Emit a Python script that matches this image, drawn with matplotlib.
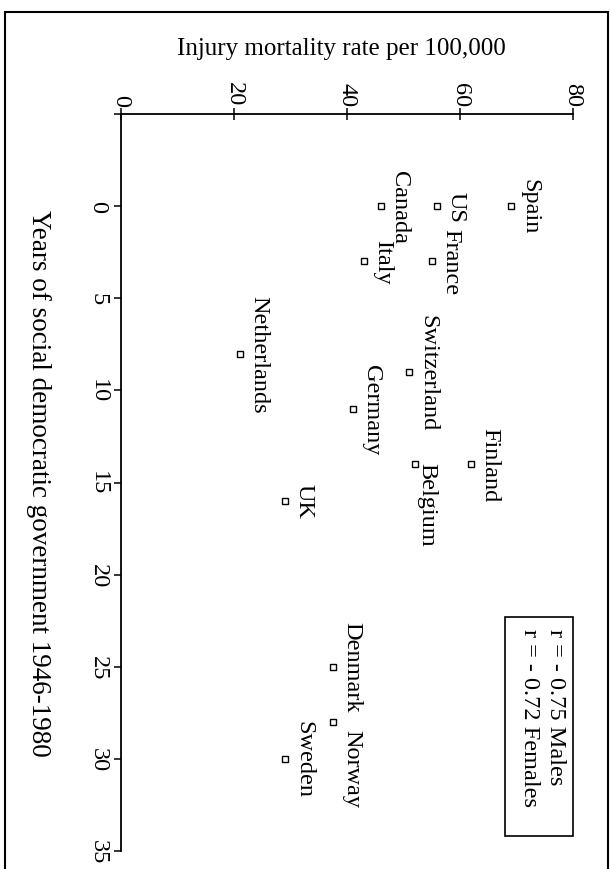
import matplotlib
matplotlib.use("Agg")
import matplotlib.pyplot as plt
from matplotlib.patches import Rectangle

# ---- data ----
countries = ["Spain", "US", "Canada", "France", "Italy", "Switzerland", "Germany",
             "Netherlands", "Finland", "Belgium", "UK", "Denmark", "Norway", "Sweden"]
years = [0, 0, 0, 3, 3, 9, 11, 8, 14, 14, 16, 25, 28, 30]
mortality = [69, 56, 46, 55, 43, 51, 41, 21, 62, 52, 29, 37.5, 37.5, 29]

year_ticks = [-5, 0, 5, 10, 15, 20, 25, 30, 35]
year_tick_labels = ["", "0", "5", "10", "15", "20", "25", "30", "35"]
mort_ticks = [0, 20, 40, 60, 80]
mort_tick_labels = ["0", "20", "40", "60", "80"]

mort_title = "Injury mortality rate per 100,000"
year_title = "Years of social democratic government 1946-1980"
legend_lines = ["r = - 0.75 Males", "r = - 0.72 Females"]

# ---- style ----
W, H = 611, 870
plt.rcParams["font.family"] = ["Liberation Serif", "DejaVu Serif"]
FS = 17.5

label_offsets = {"Belgium": (1, -29), "Norway": (6, -33)}
default_offset = (6, 0)

fig = plt.figure(figsize=(W / 100, H / 100), dpi=100)
ax = fig.add_axes([121 / W, 1 - 852 / H, 452 / W, 737 / H])
ax.set_xlim(0, 80)
ax.set_ylim(35, -5)

ax.plot(mortality, years, ls="none", marker="s", ms=4.5, mfc="white",
        mec="black", mew=1.0, clip_on=False)

for name, m, y in zip(countries, mortality, years):
    dx, dy = label_offsets.get(name, default_offset)
    ax.annotate(name, (m, y), xytext=(dx, dy), textcoords="offset points",
                rotation=-90, ha="left", va="center", fontsize=FS)

# spines
for s in ["bottom", "right"]:
    ax.spines[s].set_visible(False)
for s in ["top", "left"]:
    ax.spines[s].set_linewidth(1.3)

ax.xaxis.tick_top()
ax.set_xticks(mort_ticks)
ax.set_xticklabels(mort_tick_labels)
ax.tick_params(axis="x", direction="inout", length=8, width=1.1, pad=2,
               labelrotation=-90, labelsize=FS)
ax.set_yticks(year_ticks)
ax.set_yticklabels(year_tick_labels)
ax.tick_params(axis="y", direction="out", length=5, width=1.1, pad=4,
               labelrotation=-90, labelsize=FS)
for lbl in ax.get_yticklabels():
    lbl.set_va("center")
    lbl.set_ha("right")

ax.xaxis.set_label_position("top")
ax.set_xlabel(mort_title, fontsize=FS + 0.5, labelpad=20)
ax.xaxis.label.set_x(0.487)
ax.set_ylabel(year_title, fontsize=19.5, rotation=-90, va="top", labelpad=26)

# legend-like text box
fig.add_artist(Rectangle((505 / W, 1 - 837 / H), 68 / W, 219 / H,
                         transform=fig.transFigure, fill=False, lw=1.2, ec="black"))
fig.text(555 / W, 1 - 629 / H, legend_lines[0], rotation=-90, ha="center", va="top", fontsize=FS)
fig.text(530 / W, 1 - 629 / H, legend_lines[1], rotation=-90, ha="center", va="top", fontsize=FS)

# outer border
fig.add_artist(Rectangle((5 / W, -0.01), 603 / W, 1 - 13 / H + 0.01,
                         transform=fig.transFigure, fill=False, lw=1.5, ec="black"))

fig.savefig("out.png", dpi=100)
